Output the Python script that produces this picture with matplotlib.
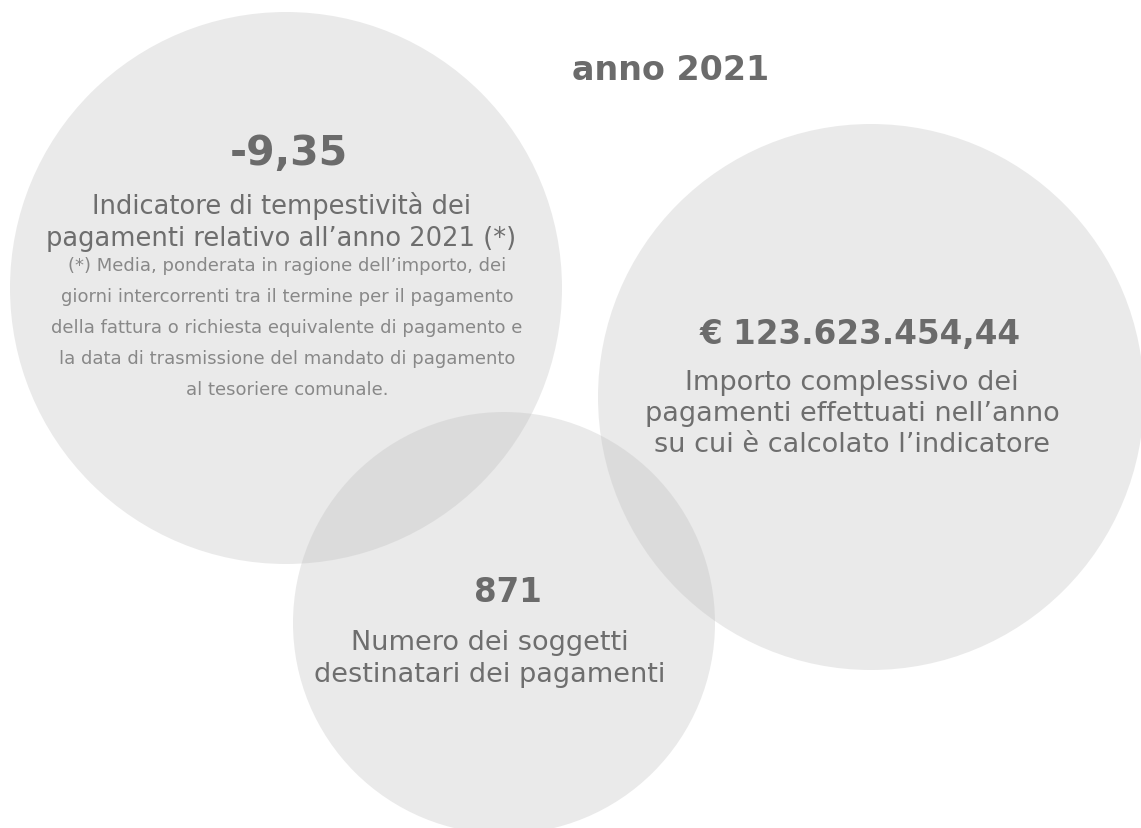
import matplotlib
matplotlib.use("Agg")
import matplotlib.pyplot as plt
from matplotlib.patches import Circle

# data
title = "anno 2021"
values = ["-9,35", "€ 123.623.454,44", "871"]
labels = [
    "Indicatore di tempestività dei\npagamenti relativo all’anno 2021 (*)",
    "Importo complessivo dei\npagamenti effettuati nell’anno\nsu cui è calcolato l’indicatore",
    "Numero dei soggetti\ndestinatari dei pagamenti",
]
footnote = [
    "(*) Media, ponderata in ragione dell’importo, dei",
    "giorni intercorrenti tra il termine per il pagamento",
    "della fattura o richiesta equivalente di pagamento e",
    "la data di trasmissione del mandato di pagamento",
    "al tesoriere comunale.",
]

# layout (pixels, y down)
W, H = 1141, 829
circles = [(286, 289, 276), (871, 398, 273), (504, 624, 211)]
value_pos = [(289, 154), (860, 334), (508, 593)]
value_size = [29.5, 23.5, 23.5]
label_pos = [(281, 222), (852, 414), (490, 659)]
label_size = [18.5, 19.5, 19.5]

fig = plt.figure(figsize=(W / 100, H / 100), dpi=100)
ax = fig.add_axes([0, 0, 1, 1])
ax.set_xlim(0, W)
ax.set_ylim(H, 0)
ax.set_aspect("equal")
ax.axis("off")

for cx, cy, r in circles:
    ax.add_patch(Circle((cx, cy), r, facecolor="#bcbcbc", edgecolor="none", alpha=0.31))

dark = "#6b6b6b"
ax.text(671, 70, title, ha="center", va="center", fontsize=24, fontweight="bold", color=dark)

for (x, y), v, s in zip(value_pos, values, value_size):
    ax.text(x, y, v, ha="center", va="center", fontsize=s, fontweight="bold", color=dark)

for (x, y), lab, s in zip(label_pos, labels, label_size):
    ax.text(x, y, lab, ha="center", va="center", fontsize=s, color="#6e6e6e",
            linespacing=1.27)

for i, line in enumerate(footnote):
    ax.text(287, 266 + i * 31, line, ha="center", va="center", fontsize=13,
            color="#888888")

fig.savefig("out.png", dpi=100)
